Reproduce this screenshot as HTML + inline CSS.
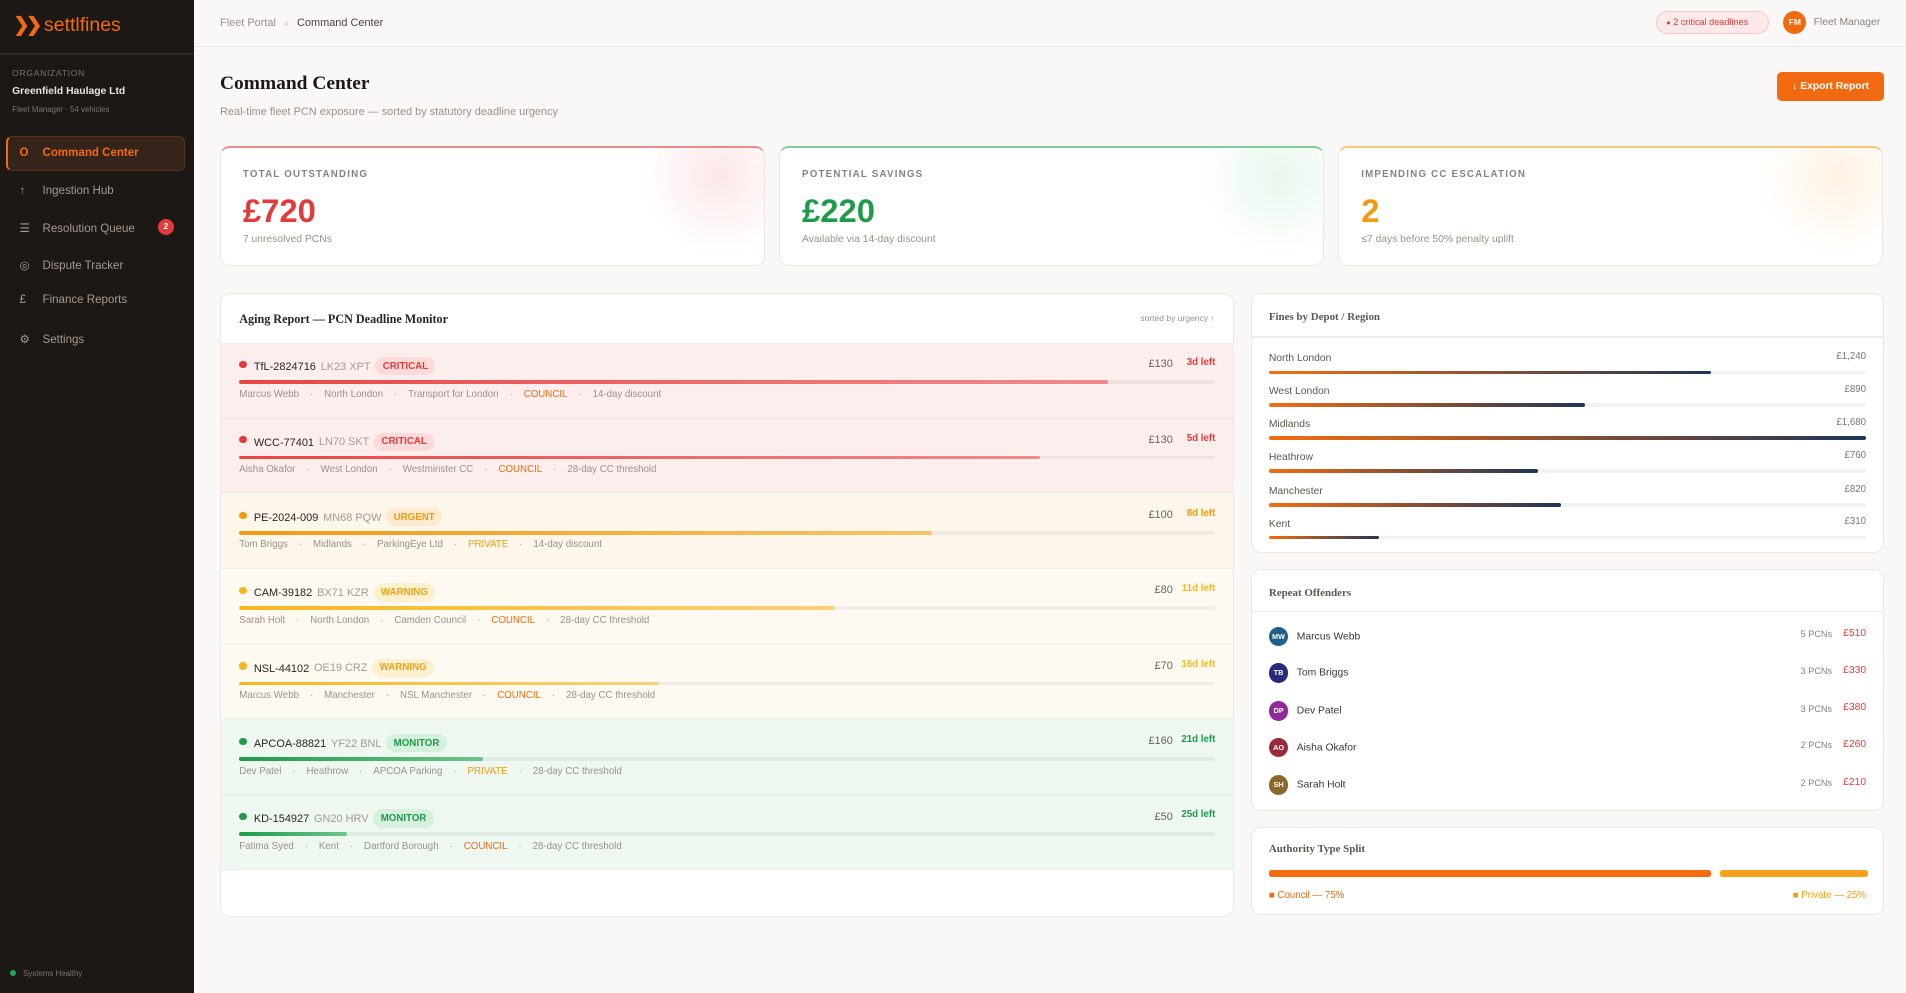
<!DOCTYPE html>
<html><head><meta charset="utf-8"><style>
*{box-sizing:border-box;margin:0;padding:0}
html,body{width:1906px;height:993px;overflow:hidden;background:#f9f8f6}
#root{zoom:1.21556;width:1568px;height:817px;position:relative;font-family:"Liberation Sans",sans-serif;color:#2a2522}
.a{position:absolute;white-space:nowrap}
.side{position:absolute;left:0;top:0;width:160px;height:817px;background:#1c1816}
.serif{font-family:"Liberation Serif",serif;font-weight:bold}
.card{position:absolute;background:#fff;border:1px solid #ebe7e3;border-radius:8px;overflow:hidden}
.nav{position:absolute;left:16px;font-size:9.5px;color:#a49a92}
.nav i{font-style:normal;display:inline-block;width:19px}
.kl{position:absolute;left:18px;top:17px;font-size:8px;letter-spacing:1px;font-weight:bold;color:#8a817b}
.kv{position:absolute;left:18px;top:36px;font-size:27px;font-weight:bold}
.ks{position:absolute;left:18px;top:71px;font-size:8.5px;color:#9a918a}
.row{position:absolute;left:0;width:833px;height:62px;border-bottom:1px solid rgba(0,0,0,0.04)}
.row .d{position:absolute;left:15px;top:15px;width:6px;height:6px;border-radius:50%}
.row .id{position:absolute;left:27px;top:12px;font-size:9px;color:#2a2522}
.row .id span{color:#a39a93;margin-left:4px}
.bd{display:inline-block;font-size:8px;font-weight:bold;padding:3px 6px;border-radius:8px;margin-left:5px;vertical-align:1px}
.row .am{position:absolute;right:50px;top:13px;font-size:9px;color:#6b625c}
.row .dl{position:absolute;right:15px;top:12px;font-size:8px;font-weight:bold}
.row .tr{position:absolute;left:15px;right:15px;top:31px;height:3px;background:rgba(0,0,0,0.05);border-radius:2px}
.row .tr b{display:block;height:3px;border-radius:2px}
.row .mt{position:absolute;left:15px;top:38px;font-size:8px;color:#9a918a}
.row .mt s{text-decoration:none;margin:0 9px}
.fr{position:absolute;left:14px;right:14px;font-size:8.5px;color:#5e5650}
.fr .v{position:absolute;right:0;top:-2px;font-size:8px;color:#7d746e}
.fr .t{position:absolute;left:0;right:0;top:14px;height:3px;background:#f3f2f1;border-radius:2px}
.fr .t b{display:block;height:3px;border-radius:2px;background:linear-gradient(90deg,#f56c10,#1e3558)}
.of{position:absolute;left:14px;right:14px;font-size:8.5px;color:#3d3632}
.of .c{display:inline-block;width:16px;height:16px;border-radius:50%;color:#fff;font-size:6px;font-weight:bold;text-align:center;line-height:16px;margin-right:7px;vertical-align:middle}
.of .p{position:absolute;right:28px;top:2px;font-size:7.5px;color:#8a817b}
.of .m{position:absolute;right:0;top:1px;font-size:8.5px;color:#e23b3b}
</style></head><body><div id="root">
<div class="side">
  <div class="a" style="left:11px;top:11px;font-size:16px;color:#f26a10"><span style="font-weight:bold;letter-spacing:-3px">❯❯</span> settlfines</div>
  <div class="a" style="left:0;top:44px;width:160px;height:1px;background:#2e2926"></div>
  <div class="a" style="left:10px;top:56px;font-size:7px;letter-spacing:0.6px;color:#7d746e">ORGANIZATION</div>
  <div class="a" style="left:10px;top:71px;font-size:8.5px;font-weight:bold;color:#e9e4df">Greenfield Haulage Ltd</div>
  <div class="a" style="left:10px;top:86px;font-size:6.5px;color:#7d746e">Fleet Manager · 54 vehicles</div>
  <div class="a" style="left:5px;top:112px;width:147px;height:29px;background:#36231a;border:1px solid #5a3418;border-left:2px solid #f26a10;border-radius:5px"></div>
  <div class="nav" style="top:121px;color:#f26a10;font-weight:bold"><i>O</i>Command Center</div>
  <div class="nav" style="top:152px"><i>↑</i>Ingestion Hub</div>
  <div class="nav" style="top:182px"><i>☰</i>Resolution Queue</div>
  <div class="a" style="left:130px;top:180px;width:13px;height:13px;border-radius:50%;background:#e23b3b;color:#fff;font-size:7px;font-weight:bold;text-align:center;line-height:13px">2</div>
  <div class="nav" style="top:212px"><i>◎</i>Dispute Tracker</div>
  <div class="nav" style="top:242px"><i>£</i>Finance Reports</div>
  <div class="nav" style="top:273px"><i>⚙</i>Settings</div>
  <div class="a" style="left:8px;top:798px;width:5px;height:5px;border-radius:50%;background:#22a355"></div>
  <div class="a" style="left:19px;top:797px;font-size:6.5px;color:#7d746e">Systems Healthy</div>
</div>
<div class="a" style="left:160px;top:38px;width:1408px;height:1px;background:#ece9e5"></div>
<div class="a" style="left:181px;top:14px;font-size:9px;color:#9a918a">Fleet Portal <span style="margin:0 5px;font-size:7px">›</span> <span style="color:#4a433e">Command Center</span></div>
<div class="a" style="left:1362px;top:9px;width:93px;height:19px;border-radius:10px;background:#fde9e9;border:1px solid #f6c8c8;font-size:7.5px;color:#e23b3b;line-height:17px;padding-left:8px"><span style="font-size:6px">●</span> 2 critical deadlines</div>
<div class="a" style="left:1467px;top:9px;width:19px;height:19px;border-radius:50%;background:#f26a10;color:#fff;font-size:7px;font-weight:bold;text-align:center;line-height:19px">FM</div>
<div class="a" style="left:1492px;top:14px;font-size:8.5px;color:#8a817b">Fleet Manager</div>
<div class="a serif" style="left:181px;top:60px;font-size:16px;color:#1c1816">Command Center</div>
<div class="a" style="left:181px;top:87px;font-size:9px;color:#9a918a">Real-time fleet PCN exposure — sorted by statutory deadline urgency</div>
<div class="a" style="left:1462px;top:59px;width:88px;height:24px;border-radius:4px;background:#f26a10;color:#fff;font-size:8.5px;font-weight:bold;text-align:center;line-height:24px">↓ Export Report</div>

<div class="card" style="left:181px;top:120px;width:448px;height:99px;border-top:2px solid #f08a8a"><div class="a" style="right:0;top:0;width:120px;height:90px;background:radial-gradient(circle at 70% 25%,rgba(240,120,120,0.18),transparent 60%)"></div>
<div class="kl">TOTAL OUTSTANDING</div><div class="kv" style="color:#e23b3b">£720</div><div class="ks">7 unresolved PCNs</div></div>
<div class="card" style="left:641px;top:120px;width:448px;height:99px;border-top:2px solid #7fcf9a"><div class="a" style="right:0;top:0;width:120px;height:90px;background:radial-gradient(circle at 70% 25%,rgba(100,200,130,0.15),transparent 60%)"></div>
<div class="kl">POTENTIAL SAVINGS</div><div class="kv" style="color:#1f9a4a">£220</div><div class="ks">Available via 14-day discount</div></div>
<div class="card" style="left:1101px;top:120px;width:448px;height:99px;border-top:2px solid #f5c77a"><div class="a" style="right:0;top:0;width:120px;height:90px;background:radial-gradient(circle at 70% 25%,rgba(245,180,80,0.16),transparent 60%)"></div>
<div class="kl">IMPENDING CC ESCALATION</div><div class="kv" style="color:#f29a10">2</div><div class="ks">≤7 days before 50% penalty uplift</div></div>

<div class="card" style="left:181px;top:241px;width:834px;height:513px">
  <div class="a serif" style="left:15px;top:15px;font-size:10px">Aging Report — PCN Deadline Monitor</div>
  <div class="a" style="right:15px;top:16px;font-size:7px;color:#9a918a">sorted by urgency ↑</div>
  <div class="row" style="top:40px;background:#fdeeee"><div class="d" style="background:#e23b3b"></div><div class="id">TfL-2824716<span>LK23 XPT</span><span class="bd" style="background:#fbdada;color:#e23b3b">CRITICAL</span></div><div class="am">£130</div><div class="dl" style="color:#e23b3b">3d left</div><div class="tr"><b style="width:89%;background:linear-gradient(90deg,#e84545,#f08b8b)"></b></div><div class="mt">Marcus Webb<s>·</s>North London<s>·</s>Transport for London<s>·</s><span style="color:#f26a10">COUNCIL</span><s>·</s>14-day discount</div></div>
  <div class="row" style="top:102px;background:#fdeeee"><div class="d" style="background:#e23b3b"></div><div class="id">WCC-77401<span>LN70 SKT</span><span class="bd" style="background:#fbdada;color:#e23b3b">CRITICAL</span></div><div class="am">£130</div><div class="dl" style="color:#e23b3b">5d left</div><div class="tr"><b style="width:82%;background:linear-gradient(90deg,#e84545,#f08b8b)"></b></div><div class="mt">Aisha Okafor<s>·</s>West London<s>·</s>Westminster CC<s>·</s><span style="color:#f26a10">COUNCIL</span><s>·</s>28-day CC threshold</div></div>
  <div class="row" style="top:164px;background:#fdf6ea"><div class="d" style="background:#f29a10"></div><div class="id">PE-2024-009<span>MN68 PQW</span><span class="bd" style="background:#fcebd0;color:#f29a10">URGENT</span></div><div class="am">£100</div><div class="dl" style="color:#f29a10">8d left</div><div class="tr"><b style="width:71%;background:linear-gradient(90deg,#f29a10,#f5c46a)"></b></div><div class="mt">Tom Briggs<s>·</s>Midlands<s>·</s>ParkingEye Ltd<s>·</s><span style="color:#f29a10">PRIVATE</span><s>·</s>14-day discount</div></div>
  <div class="row" style="top:226px;background:#fffaf1"><div class="d" style="background:#f5b820"></div><div class="id">CAM-39182<span>BX71 KZR</span><span class="bd" style="background:#fdf0cf;color:#eaa51a">WARNING</span></div><div class="am">£80</div><div class="dl" style="color:#f5b820">11d left</div><div class="tr"><b style="width:61%;background:linear-gradient(90deg,#f5b820,#f8d27a)"></b></div><div class="mt">Sarah Holt<s>·</s>North London<s>·</s>Camden Council<s>·</s><span style="color:#f26a10">COUNCIL</span><s>·</s>28-day CC threshold</div></div>
  <div class="row" style="top:288px;background:#fffaf1"><div class="d" style="background:#f5b820"></div><div class="id">NSL-44102<span>OE19 CRZ</span><span class="bd" style="background:#fdf0cf;color:#eaa51a">WARNING</span></div><div class="am">£70</div><div class="dl" style="color:#f5b820">16d left</div><div class="tr"><b style="width:43%;background:linear-gradient(90deg,#f5b820,#f8d27a)"></b></div><div class="mt">Marcus Webb<s>·</s>Manchester<s>·</s>NSL Manchester<s>·</s><span style="color:#f26a10">COUNCIL</span><s>·</s>28-day CC threshold</div></div>
  <div class="row" style="top:350px;background:#eef8f1"><div class="d" style="background:#1f9a4a"></div><div class="id">APCOA-88821<span>YF22 BNL</span><span class="bd" style="background:#d6f0de;color:#1f9a4a">MONITOR</span></div><div class="am">£160</div><div class="dl" style="color:#1f9a4a">21d left</div><div class="tr"><b style="width:25%;background:linear-gradient(90deg,#1f9a4a,#6cc58c)"></b></div><div class="mt">Dev Patel<s>·</s>Heathrow<s>·</s>APCOA Parking<s>·</s><span style="color:#f29a10">PRIVATE</span><s>·</s>28-day CC threshold</div></div>
  <div class="row" style="top:412px;background:#eef8f1"><div class="d" style="background:#1f9a4a"></div><div class="id">KD-154927<span>GN20 HRV</span><span class="bd" style="background:#d6f0de;color:#1f9a4a">MONITOR</span></div><div class="am">£50</div><div class="dl" style="color:#1f9a4a">25d left</div><div class="tr"><b style="width:11%;background:linear-gradient(90deg,#1f9a4a,#6cc58c)"></b></div><div class="mt">Fatima Syed<s>·</s>Kent<s>·</s>Dartford Borough<s>·</s><span style="color:#f26a10">COUNCIL</span><s>·</s>28-day CC threshold</div></div>
</div>

<div class="card" style="left:1029px;top:241px;width:521px;height:214px">
  <div class="a serif" style="left:14px;top:14px;font-size:9px;color:#5e5650">Fines by Depot / Region</div>
  <div class="a" style="left:0;top:35px;width:521px;height:1px;background:#eeebe8"></div>
  <div class="fr" style="top:49px">North London<span class="v">£1,240</span><div class="t"><b style="width:74%"></b></div></div>
  <div class="fr" style="top:76px">West London<span class="v">£890</span><div class="t"><b style="width:53%"></b></div></div>
  <div class="fr" style="top:103px">Midlands<span class="v">£1,680</span><div class="t"><b style="width:100%"></b></div></div>
  <div class="fr" style="top:130px">Heathrow<span class="v">£760</span><div class="t"><b style="width:45%"></b></div></div>
  <div class="fr" style="top:158px">Manchester<span class="v">£820</span><div class="t"><b style="width:49%"></b></div></div>
  <div class="fr" style="top:185px">Kent<span class="v">£310</span><div class="t"><b style="width:18.5%"></b></div></div>
</div>

<div class="card" style="left:1029px;top:468px;width:521px;height:199px">
  <div class="a serif" style="left:14px;top:14px;font-size:9px;color:#5e5650">Repeat Offenders</div>
  <div class="a" style="left:0;top:34px;width:521px;height:1px;background:#eeebe8"></div>
  <div class="of" style="top:47px"><span class="c" style="background:#1f5f8a">MW</span>Marcus Webb<span class="p">5 PCNs</span><span class="m">£510</span></div>
  <div class="of" style="top:77px"><span class="c" style="background:#2a2a7a">TB</span>Tom Briggs<span class="p">3 PCNs</span><span class="m">£330</span></div>
  <div class="of" style="top:108px"><span class="c" style="background:#8e2a9a">DP</span>Dev Patel<span class="p">3 PCNs</span><span class="m">£380</span></div>
  <div class="of" style="top:138px"><span class="c" style="background:#9a2a3a">AO</span>Aisha Okafor<span class="p">2 PCNs</span><span class="m">£260</span></div>
  <div class="of" style="top:169px"><span class="c" style="background:#8a6a2a">SH</span>Sarah Holt<span class="p">2 PCNs</span><span class="m">£210</span></div>
</div>

<div class="card" style="left:1029px;top:680px;width:521px;height:73px">
  <div class="a serif" style="left:14px;top:13px;font-size:9px;color:#5e5650">Authority Type Split</div>
  <div class="a" style="left:14px;top:35px;width:364px;height:6px;border-radius:2px;background:#f56c10"></div>
  <div class="a" style="left:385px;top:35px;width:122px;height:6px;border-radius:2px;background:#f5a21a"></div>
  <div class="a" style="left:14px;top:51px;font-size:8px;color:#f26a10">■ Council — 75%</div>
  <div class="a" style="right:14px;top:51px;font-size:8px;color:#f29a10">■ Private — 25%</div>
</div>
</div></body></html>
